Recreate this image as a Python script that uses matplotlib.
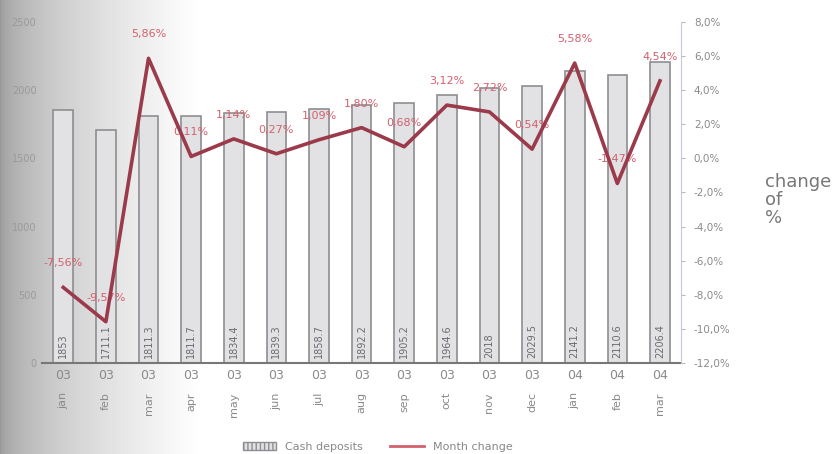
import numpy as np
import matplotlib
matplotlib.use("Agg")
import matplotlib.pyplot as plt
from matplotlib.lines import Line2D
from matplotlib.patches import Patch

years = ["03"] * 12 + ["04"] * 3
months = ["jan", "feb", "mar", "apr", "may", "jun", "jul", "aug", "sep",
          "oct", "nov", "dec", "jan", "feb", "mar"]
deposits = [1853.0, 1711.1, 1811.3, 1813.3, 1834.0, 1839.0, 1859.0, 1892.3,
            1905.2, 1964.6, 2018.0, 2029.5, 2141.2, 2110.6, 2206.4]
deposit_labels = ["1853", "1711.1", "1811.3", "1811.7", "1834.4", "1839.3",
                  "1858.7", "1892.2", "1905.2", "1964.6", "2018", "2029.5",
                  "2141.2", "2110.6", "2206.4"]
change = [-7.56, -9.57, 5.86, 0.11, 1.14, 0.27, 1.09, 1.80, 0.68, 3.12,
          2.72, 0.54, 5.58, -1.47, 4.54]

bar_face = "#e2e2e4"
bar_edge = "#8e8e92"
line_col = "#9b3a4a"
lab_col = "#d4606e"
grey = "#8a8a8a"

fig = plt.figure(figsize=(8.39, 4.54), dpi=100)

# photo shading on the left side
bg = fig.add_axes([0, 0, 1, 1], zorder=-5)
xx = np.linspace(0, 1, 839)
shade = 0.6 + 0.4 * np.clip(xx / 0.24, 0, 1) ** 0.55
img = np.tile(shade, (454, 1))
bg.imshow(img, cmap="gray", vmin=0, vmax=1, aspect="auto")
bg.axis("off")

ax = fig.add_axes([0.05, 0.2, 0.762, 0.752])
ax.patch.set_alpha(0)
x = np.arange(len(months))

ax.bar(x, deposits, width=0.46, color=bar_face, edgecolor=bar_edge, linewidth=1.2, zorder=2)
for xi, lab in zip(x, deposit_labels):
    ax.text(xi, 40, lab, rotation=90, ha="center", va="bottom", fontsize=7,
            color="#6a6a70", zorder=3)

ax.set_ylim(0, 2450)
ax.set_yticks([0, 500, 1000, 1500, 2000, 2500])
ax.set_yticklabels(["0", "500", "1000", "1500", "2000", "2500"], color="#9a9a9a", fontsize=7)
ax.set_xlim(-0.5, len(x) - 0.5)
ax.set_xticks(x)
ax.set_xticklabels(years, fontsize=9, color=grey)
ax.tick_params(axis="x", length=0, pad=4)
ax.tick_params(axis="y", length=0, pad=4)
for s in ["top", "left", "right"]:
    ax.spines[s].set_visible(False)
ax.spines["bottom"].set_color("#777777")
ax.spines["bottom"].set_linewidth(1.5)

for xi, m in zip(x, months):
    ax.text(xi, -0.085, m, rotation=90, ha="center", va="top", fontsize=8,
            color=grey, transform=ax.get_xaxis_transform())

ax2 = ax.twinx()
ax2.plot(x, change, color=line_col, linewidth=2.6, zorder=4)
for xi, v in zip(x, change):
    ax2.annotate(("%.2f%%" % v).replace(".", ","), (xi, v), xytext=(0, 24),
                 textcoords="offset pixels", ha="center", va="center",
                 fontsize=8, color=lab_col)
ax2.set_ylim(-12, 8)
ax2.set_yticks(np.arange(-12, 9, 2))
ax2.set_yticklabels([("%.1f%%" % t).replace(".", ",") for t in np.arange(-12, 9, 2)],
                    fontsize=7.5, color=grey)
ax2.tick_params(axis="y", length=3, color="#bbbbbb", pad=6)
for s in ["top", "left", "bottom"]:
    ax2.spines[s].set_visible(False)
ax2.spines["right"].set_color("#c8c8d8")

fig.text(0.912, 0.56, "change\nof\n%", fontsize=13, color="#777777",
         ha="left", va="center", linespacing=1.0)

handles = [Patch(facecolor=bar_face, edgecolor=bar_edge, hatch="||||"),
           Line2D([0], [0], color=lab_col, linewidth=2)]
fig.legend(handles, ["Cash deposits", "Month change"], loc="center",
           bbox_to_anchor=(0.45, 0.015), ncol=2, frameon=False, fontsize=8,
           labelcolor="#888888", handlelength=3, columnspacing=2.5)

fig.savefig("out.png", dpi=100)
